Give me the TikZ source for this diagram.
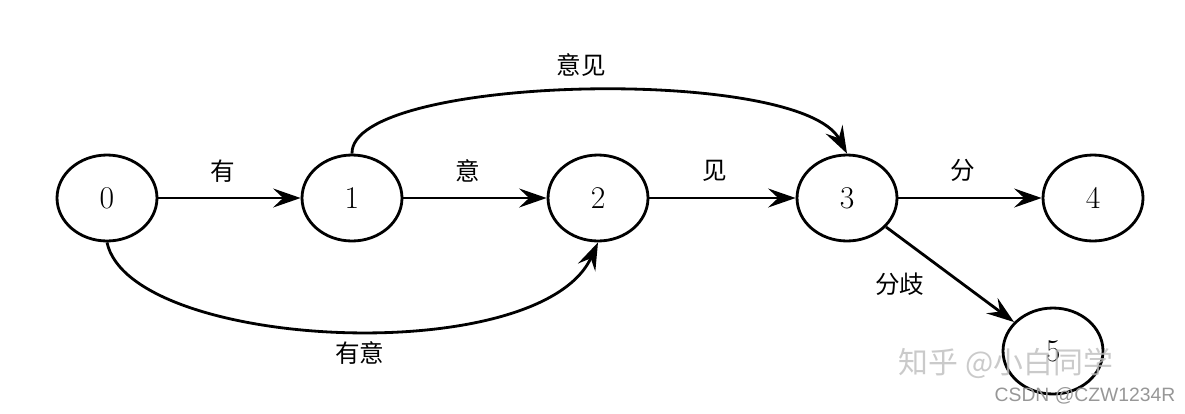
\documentclass[tikz,border=0pt]{standalone}
\usepackage{fontspec}
\usetikzlibrary{positioning, shapes.geometric, arrows.meta}
\newfontfamily\cjk{Noto Sans CJK SC}
\newfontfamily\wmfont{Liberation Sans}
\definecolor{wmgray}{HTML}{BDBDBD}
\begin{document}
\begin{tikzpicture}[x=0.02cm, y=-0.02cm,
          st/.style={draw, ellipse, line width=1.6pt, minimum width=2cm, minimum height=1.72cm, inner sep=0pt, font=\fontsize{18}{20}\selectfont},
          e/.style={-{Stealth[length=5.5mm, width=3.8mm, inset=2mm]}, line width=1.6pt},
          lbl/.style={font=\cjk\fontsize{14}{16}\selectfont}]
        \useasboundingbox (0,0) rectangle (1185,413);
        \node[st] (s0) at (107,198) {0};
        \node[st] (s1) at (352,198) {1};
        \node[st] (s2) at (598,198) {2};
        \node[st] (s3) at (847,198) {3};
        \node[st] (s4) at (1093,198) {4};
        \node[st] (s5) at (1053,351) {5};
        \draw[e] (s0) -- node[lbl, above=5pt, pos=0.45] {有} (s1);
        \draw[e] (s1) -- node[lbl, above=5pt, pos=0.45] {意} (s2);
        \draw[e] (s2) -- node[lbl, above=5pt, pos=0.45] {见} (s3);
        \draw[e] (s3) -- node[lbl, above=5pt, pos=0.45] {分} (s4);
        \draw[e] (s3) -- node[lbl, left=0.62cm, pos=0.6] {分歧} (s5);
        \draw[e] (s1.north) .. controls (350,75) and (800,65) .. node[lbl, above=4pt] {意见} (s3.north);
        \draw[e] (s0.south) .. controls (130,350) and (540,370) .. node[lbl, below=2pt, pos=0.53] {有意} (s2.south);
        % watermarks
        \node[font=\cjk\fontsize{17}{19}\selectfont, text=wmgray, opacity=0.8] (wm1) at (1006,363) {知乎 @小白同学};
        \node[font=\wmfont\fontsize{11}{13}\selectfont, text=wmgray!80!black] (wm2) at (1085,396) {CSDN @CZW1234R};
      \end{tikzpicture}
\end{document}
